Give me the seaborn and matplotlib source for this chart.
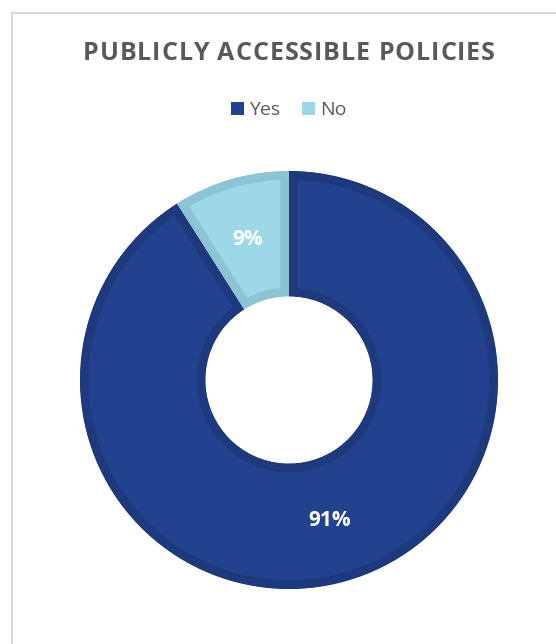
import matplotlib
matplotlib.use('Agg')
from matplotlib import pyplot as plt
from matplotlib.patches import Rectangle, Patch
import seaborn as sns

# data
labels = ['Yes', 'No']
shares = [91, 9]
fill_colors = ['#22418F', '#9DD8E8']
edge_colors = ['#1E3A7C', '#8DC4D3']
title = 'PUBLICLY ACCESSIBLE POLICIES'

sns.set_theme(style='white')
plt.rcParams['font.family'] = ['Open Sans', 'DejaVu Sans']

W, H = 556, 644
fig = plt.figure(figsize=(W / 100, H / 100), dpi=100)
fig.patch.set_facecolor('white')

# chart frame (light grey border, running off right/bottom)
fig.add_artist(Rectangle((12 / W, -0.1), 1.2, (H - 13) / H + 0.1, transform=fig.transFigure,
                         fill=False, edgecolor='#D9D9D9', linewidth=1.5))

# donut axes, centre (289,380) px, radius 209 px
r = 209
cx, cy = 289, 380
ax = fig.add_axes([(cx - r) / W, (H - cy - r) / H, 2 * r / W, 2 * r / H])
wedges, texts, autotexts = ax.pie(shares, colors=sns.color_palette(fill_colors), startangle=90,
                                  counterclock=False, radius=1,
                                  wedgeprops=dict(width=0.6),
                                  autopct='%1.0f%%', pctdistance=0.70,
                                  textprops=dict(color='white', fontsize=15, fontweight='bold'))
for w, ec in zip(wedges, edge_colors):
    w.set_edgecolor(ec)
    w.set_linewidth(12.5)
    w.set_clip_on(True)
    w.set_clip_path(w)
ax.set_xlim(-1, 1)
ax.set_ylim(-1, 1)
ax.set_aspect('equal')
ax.axis('off')

# title with a little extra letter spacing (placed char by char)
fs = 18
renderer = fig.canvas.get_renderer()
chars = [fig.text(0, 1 - 53 / H, ch, ha='left', va='center', fontsize=fs,
                  fontweight='bold', color='#595959') for ch in title]
probe2 = fig.text(0, 0, 'A A', fontsize=fs, fontweight='bold')
probe1 = fig.text(0, 0, 'AA', fontsize=fs, fontweight='bold')
space_w = probe2.get_window_extent(renderer).width - probe1.get_window_extent(renderer).width
probe1.remove()
probe2.remove()
widths = [t.get_window_extent(renderer).width if ch != ' ' else space_w
          for t, ch in zip(chars, title)]
target = 412
gap = (target - sum(widths)) / (len(title) - 1)
x = cx - target / 2
for t, w in zip(chars, widths):
    t.set_x(x / W)
    x += w + gap

handles = [Patch(facecolor=c, edgecolor='none') for c in fill_colors]
fig.legend(handles, labels, loc='center', bbox_to_anchor=(cx / W, 1 - 110 / H), ncol=2,
           frameon=False, fontsize=14, labelcolor='#595959', handlelength=0.65, handleheight=0.65,
           handletextpad=0.3, columnspacing=1.1)

fig.savefig('out.png', dpi=100, facecolor='white')
